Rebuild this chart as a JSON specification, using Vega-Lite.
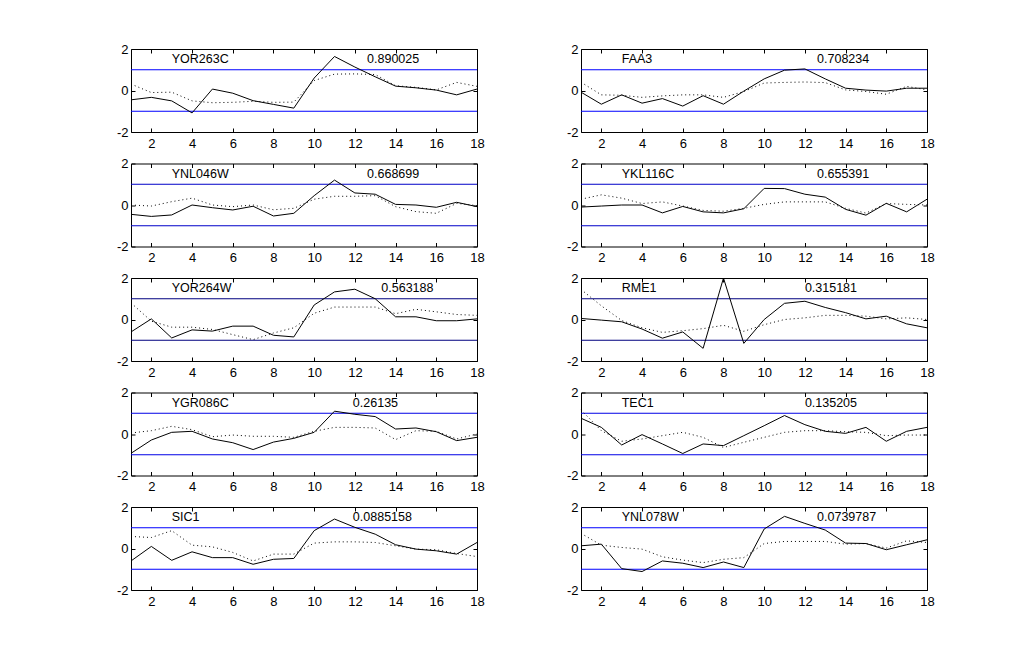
{
  "$schema": "https://vega.github.io/schema/vega-lite/v6.json",
  "autosize": {"type": "pad"},
  "padding": {"left": 115, "top": 41, "right": 0, "bottom": 0},
  "background": "white",
  "bounds": "flush",
  "spacing": {"row": 31.5, "column": 104},
  "columns": 2,
  "data": {"values": [
    {"g":"YOR263C","t":1,"p":-0.45,"m":0.31},{"g":"YOR263C","t":2,"p":-0.33,"m":-0.1},{"g":"YOR263C","t":3,"p":-0.5,"m":-0.08},{"g":"YOR263C","t":4,"p":-1.08,"m":-0.5},{"g":"YOR263C","t":5,"p":0.07,"m":-0.59},{"g":"YOR263C","t":6,"p":-0.13,"m":-0.57},{"g":"YOR263C","t":7,"p":-0.49,"m":-0.52},{"g":"YOR263C","t":8,"p":-0.67,"m":-0.57},{"g":"YOR263C","t":9,"p":-0.85,"m":-0.56},{"g":"YOR263C","t":10,"p":0.6,"m":0.48},{"g":"YOR263C","t":11,"p":1.64,"m":0.79},{"g":"YOR263C","t":12,"p":1.13,"m":0.8},{"g":"YOR263C","t":13,"p":0.66,"m":0.77},{"g":"YOR263C","t":14,"p":0.21,"m":0.23},{"g":"YOR263C","t":15,"p":0.13,"m":0.15},{"g":"YOR263C","t":16,"p":0.02,"m":0.03},{"g":"YOR263C","t":17,"p":-0.21,"m":0.39},{"g":"YOR263C","t":18,"p":0.07,"m":0.2},
    {"g":"FAA3","t":1,"p":-0.08,"m":0.4},{"g":"FAA3","t":2,"p":-0.66,"m":-0.21},{"g":"FAA3","t":3,"p":-0.21,"m":-0.23},{"g":"FAA3","t":4,"p":-0.61,"m":-0.33},{"g":"FAA3","t":5,"p":-0.39,"m":-0.26},{"g":"FAA3","t":6,"p":-0.75,"m":-0.21},{"g":"FAA3","t":7,"p":-0.25,"m":-0.21},{"g":"FAA3","t":8,"p":-0.66,"m":-0.33},{"g":"FAA3","t":9,"p":-0.03,"m":-0.05},{"g":"FAA3","t":10,"p":0.56,"m":0.36},{"g":"FAA3","t":11,"p":0.98,"m":0.39},{"g":"FAA3","t":12,"p":1.04,"m":0.41},{"g":"FAA3","t":13,"p":0.56,"m":0.38},{"g":"FAA3","t":14,"p":0.11,"m":0.03},{"g":"FAA3","t":15,"p":0.02,"m":-0.05},{"g":"FAA3","t":16,"p":-0.03,"m":-0.18},{"g":"FAA3","t":17,"p":0.11,"m":0.2},{"g":"FAA3","t":18,"p":0.11,"m":0.03},
    {"g":"YNL046W","t":1,"p":-0.45,"m":0.0},{"g":"YNL046W","t":2,"p":-0.55,"m":-0.05},{"g":"YNL046W","t":3,"p":-0.48,"m":0.16},{"g":"YNL046W","t":4,"p":0.0,"m":0.33},{"g":"YNL046W","t":5,"p":-0.13,"m":0.0},{"g":"YNL046W","t":6,"p":-0.24,"m":-0.08},{"g":"YNL046W","t":7,"p":-0.06,"m":0.0},{"g":"YNL046W","t":8,"p":-0.53,"m":-0.23},{"g":"YNL046W","t":9,"p":-0.4,"m":-0.16},{"g":"YNL046W","t":10,"p":0.45,"m":0.28},{"g":"YNL046W","t":11,"p":1.2,"m":0.42},{"g":"YNL046W","t":12,"p":0.58,"m":0.42},{"g":"YNL046W","t":13,"p":0.52,"m":0.45},{"g":"YNL046W","t":14,"p":0.03,"m":-0.08},{"g":"YNL046W","t":15,"p":0.0,"m":-0.32},{"g":"YNL046W","t":16,"p":-0.11,"m":-0.4},{"g":"YNL046W","t":17,"p":0.13,"m":0.08},{"g":"YNL046W","t":18,"p":-0.08,"m":-0.03},
    {"g":"YKL116C","t":1,"p":-0.1,"m":0.28},{"g":"YKL116C","t":2,"p":-0.05,"m":0.49},{"g":"YKL116C","t":3,"p":0.0,"m":0.33},{"g":"YKL116C","t":4,"p":0.0,"m":0.07},{"g":"YKL116C","t":5,"p":-0.38,"m":0.15},{"g":"YKL116C","t":6,"p":-0.07,"m":-0.05},{"g":"YKL116C","t":7,"p":-0.33,"m":-0.26},{"g":"YKL116C","t":8,"p":-0.38,"m":-0.3},{"g":"YKL116C","t":9,"p":-0.18,"m":-0.16},{"g":"YKL116C","t":10,"p":0.8,"m":0.03},{"g":"YKL116C","t":11,"p":0.79,"m":0.15},{"g":"YKL116C","t":12,"p":0.52,"m":0.15},{"g":"YKL116C","t":13,"p":0.38,"m":0.15},{"g":"YKL116C","t":14,"p":-0.21,"m":-0.16},{"g":"YKL116C","t":15,"p":-0.49,"m":-0.39},{"g":"YKL116C","t":16,"p":0.08,"m":0.07},{"g":"YKL116C","t":17,"p":-0.33,"m":0.03},{"g":"YKL116C","t":18,"p":0.28,"m":0.0},
    {"g":"YOR264W","t":1,"p":-0.6,"m":0.8},{"g":"YOR264W","t":2,"p":0.03,"m":-0.08},{"g":"YOR264W","t":3,"p":-0.89,"m":-0.37},{"g":"YOR264W","t":4,"p":-0.5,"m":-0.37},{"g":"YOR264W","t":5,"p":-0.56,"m":-0.48},{"g":"YOR264W","t":6,"p":-0.32,"m":-0.73},{"g":"YOR264W","t":7,"p":-0.32,"m":-0.97},{"g":"YOR264W","t":8,"p":-0.76,"m":-0.65},{"g":"YOR264W","t":9,"p":-0.84,"m":-0.4},{"g":"YOR264W","t":10,"p":0.7,"m":0.3},{"g":"YOR264W","t":11,"p":1.33,"m":0.6},{"g":"YOR264W","t":12,"p":1.46,"m":0.6},{"g":"YOR264W","t":13,"p":1.0,"m":0.6},{"g":"YOR264W","t":14,"p":0.13,"m":0.28},{"g":"YOR264W","t":15,"p":0.13,"m":0.49},{"g":"YOR264W","t":16,"p":-0.06,"m":0.37},{"g":"YOR264W","t":17,"p":-0.06,"m":0.24},{"g":"YOR264W","t":18,"p":0.03,"m":0.2},
    {"g":"RME1","t":1,"p":0.05,"m":1.45},{"g":"RME1","t":2,"p":-0.03,"m":0.66},{"g":"RME1","t":3,"p":-0.11,"m":-0.05},{"g":"RME1","t":4,"p":-0.46,"m":-0.4},{"g":"RME1","t":5,"p":-0.9,"m":-0.62},{"g":"RME1","t":6,"p":-0.6,"m":-0.54},{"g":"RME1","t":7,"p":-1.39,"m":-0.44},{"g":"RME1","t":8,"p":2.0,"m":-0.28},{"g":"RME1","t":9,"p":-1.15,"m":-0.57},{"g":"RME1","t":10,"p":0.0,"m":-0.25},{"g":"RME1","t":11,"p":0.78,"m":0.0},{"g":"RME1","t":12,"p":0.88,"m":0.08},{"g":"RME1","t":13,"p":0.58,"m":0.2},{"g":"RME1","t":14,"p":0.33,"m":0.2},{"g":"RME1","t":15,"p":0.03,"m":0.16},{"g":"RME1","t":16,"p":0.16,"m":0.03},{"g":"RME1","t":17,"p":-0.21,"m":0.08},{"g":"RME1","t":18,"p":-0.4,"m":0.0},
    {"g":"YGR086C","t":1,"p":-0.93,"m":0.05},{"g":"YGR086C","t":2,"p":-0.29,"m":0.16},{"g":"YGR086C","t":3,"p":0.08,"m":0.37},{"g":"YGR086C","t":4,"p":0.13,"m":0.21},{"g":"YGR086C","t":5,"p":-0.24,"m":-0.13},{"g":"YGR086C","t":6,"p":-0.42,"m":-0.05},{"g":"YGR086C","t":7,"p":-0.75,"m":-0.11},{"g":"YGR086C","t":8,"p":-0.39,"m":-0.11},{"g":"YGR086C","t":9,"p":-0.21,"m":-0.16},{"g":"YGR086C","t":10,"p":0.08,"m":0.13},{"g":"YGR086C","t":11,"p":1.1,"m":0.32},{"g":"YGR086C","t":12,"p":0.95,"m":0.32},{"g":"YGR086C","t":13,"p":0.84,"m":0.29},{"g":"YGR086C","t":14,"p":0.24,"m":-0.27},{"g":"YGR086C","t":15,"p":0.29,"m":0.16},{"g":"YGR086C","t":16,"p":0.11,"m":0.13},{"g":"YGR086C","t":17,"p":-0.32,"m":-0.24},{"g":"YGR086C","t":18,"p":-0.16,"m":0.0},
    {"g":"TEC1","t":1,"p":0.76,"m":1.16},{"g":"TEC1","t":2,"p":0.32,"m":0.16},{"g":"TEC1","t":3,"p":-0.53,"m":-0.35},{"g":"TEC1","t":4,"p":-0.03,"m":-0.24},{"g":"TEC1","t":5,"p":-0.48,"m":-0.08},{"g":"TEC1","t":6,"p":-0.94,"m":0.08},{"g":"TEC1","t":7,"p":-0.48,"m":-0.16},{"g":"TEC1","t":8,"p":-0.56,"m":-0.65},{"g":"TEC1","t":9,"p":-0.08,"m":-0.4},{"g":"TEC1","t":10,"p":0.4,"m":-0.16},{"g":"TEC1","t":11,"p":0.89,"m":0.08},{"g":"TEC1","t":12,"p":0.45,"m":0.16},{"g":"TEC1","t":13,"p":0.13,"m":0.16},{"g":"TEC1","t":14,"p":0.03,"m":0.11},{"g":"TEC1","t":15,"p":0.32,"m":0.08},{"g":"TEC1","t":16,"p":-0.35,"m":-0.08},{"g":"TEC1","t":17,"p":0.13,"m":-0.05},{"g":"TEC1","t":18,"p":0.32,"m":-0.05},
    {"g":"SIC1","t":1,"p":-0.6,"m":0.58},{"g":"SIC1","t":2,"p":0.1,"m":0.53},{"g":"SIC1","t":3,"p":-0.57,"m":0.86},{"g":"SIC1","t":4,"p":-0.16,"m":0.16},{"g":"SIC1","t":5,"p":-0.44,"m":0.08},{"g":"SIC1","t":6,"p":-0.44,"m":-0.19},{"g":"SIC1","t":7,"p":-0.76,"m":-0.6},{"g":"SIC1","t":8,"p":-0.52,"m":-0.27},{"g":"SIC1","t":9,"p":-0.48,"m":-0.27},{"g":"SIC1","t":10,"p":0.86,"m":0.26},{"g":"SIC1","t":11,"p":1.42,"m":0.32},{"g":"SIC1","t":12,"p":1.02,"m":0.32},{"g":"SIC1","t":13,"p":0.69,"m":0.29},{"g":"SIC1","t":14,"p":0.18,"m":0.13},{"g":"SIC1","t":15,"p":-0.03,"m":-0.03},{"g":"SIC1","t":16,"p":-0.11,"m":-0.06},{"g":"SIC1","t":17,"p":-0.27,"m":-0.24},{"g":"SIC1","t":18,"p":0.29,"m":-0.39},
    {"g":"YNL078W","t":1,"p":0.13,"m":0.73},{"g":"YNL078W","t":2,"p":0.21,"m":0.16},{"g":"YNL078W","t":3,"p":-0.97,"m":0.05},{"g":"YNL078W","t":4,"p":-1.11,"m":-0.03},{"g":"YNL078W","t":5,"p":-0.6,"m":-0.4},{"g":"YNL078W","t":6,"p":-0.71,"m":-0.56},{"g":"YNL078W","t":7,"p":-0.92,"m":-0.68},{"g":"YNL078W","t":8,"p":-0.65,"m":-0.52},{"g":"YNL078W","t":9,"p":-0.92,"m":-0.44},{"g":"YNL078W","t":10,"p":0.94,"m":0.24},{"g":"YNL078W","t":11,"p":1.55,"m":0.34},{"g":"YNL078W","t":12,"p":1.21,"m":0.34},{"g":"YNL078W","t":13,"p":0.89,"m":0.34},{"g":"YNL078W","t":14,"p":0.26,"m":0.21},{"g":"YNL078W","t":15,"p":0.24,"m":0.24},{"g":"YNL078W","t":16,"p":-0.06,"m":0.02},{"g":"YNL078W","t":17,"p":0.18,"m":0.37},{"g":"YNL078W","t":18,"p":0.42,"m":0.29},
    {"g":"YOR263C","score":"0.890025","sx":12.6},
    {"g":"FAA3","score":"0.708234","sx":12.6},
    {"g":"YNL046W","score":"0.668699","sx":12.6},
    {"g":"YKL116C","score":"0.655391","sx":12.6},
    {"g":"YOR264W","score":"0.563188","sx":13.3},
    {"g":"RME1","score":"0.315181","sx":12.0},
    {"g":"YGR086C","score":"0.26135","sx":11.9},
    {"g":"TEC1","score":"0.135205","sx":12.0},
    {"g":"SIC1","score":"0.0885158","sx":11.9},
    {"g":"YNL078W","score":"0.0739787","sx":12.6}
  ]},
  "facet": {"field": "g", "type": "nominal",
    "header": {"labels": false, "title": null, "labelExpr": "''", "labelPadding": 0, "titlePadding": 0, "labelFontSize": 1},
    "title": null,
    "sort": ["YOR263C","FAA3","YNL046W","YKL116C","YOR264W","RME1","YGR086C","TEC1","SIC1","YNL078W"]},
  "spec": {
    "width": 346,
    "height": 83,
    "resolve": {"axis": {"x": "independent", "y": "independent"}},
    "layer": [
      {"transform": [{"filter": "isValid(datum.score)"}],
       "mark": {"type": "rule", "strokeWidth": 1},
       "encoding": {"y": {"datum": 1, "type": "quantitative", "scale": {"domain": [-2, 2], "nice": false, "zero": false}, "axis": null},
         "color": {"field": "g", "type": "nominal", "legend": null,
           "scale": {"domain": ["YOR263C","FAA3","YNL046W","YKL116C","YOR264W","RME1","YGR086C","TEC1","SIC1","YNL078W"],
                     "range": ["#0000ff","#0000ff","#0000c8","#0000c8","#00007f","#00007f","#0000e6","#0000e6","#0000ff","#0000ff"]}}}},
      {"transform": [{"filter": "isValid(datum.score)"}],
       "mark": {"type": "rule", "strokeWidth": 1},
       "encoding": {"y": {"datum": -1, "type": "quantitative", "axis": null},
         "color": {"field": "g", "type": "nominal", "legend": null}}},
      {"transform": [{"filter": "isValid(datum.t)"}],
       "mark": {"type": "line", "color": "black", "strokeWidth": 1, "strokeDash": [1, 3]},
       "encoding": {
         "x": {"field": "t", "type": "quantitative", "scale": {"domain": [1, 18], "nice": false, "zero": false},
               "axis": {"orient": "top", "labels": false, "values": [2,4,6,8,10,12,14,16,18], "title": null}},
         "y": {"field": "m", "type": "quantitative",
               "axis": {"orient": "right", "labels": false, "values": [-2,0,2], "title": null}}}},
      {"transform": [{"filter": "isValid(datum.t)"}],
       "mark": {"type": "line", "color": "black", "strokeWidth": 1},
       "encoding": {
         "x": {"field": "t", "type": "quantitative", "axis": {"orient": "bottom", "values": [2,4,6,8,10,12,14,16,18], "title": null}},
         "y": {"field": "p", "type": "quantitative", "axis": {"orient": "left", "values": [-2,0,2], "title": null}}}},
      {"transform": [{"filter": "isValid(datum.score)"}],
       "mark": {"type": "text", "align": "left", "baseline": "middle", "font": "Liberation Sans", "fontSize": 12.5, "color": "black"},
       "encoding": {"x": {"datum": 3, "type": "quantitative", "axis": null}, "y": {"datum": 1.5, "type": "quantitative", "axis": null}, "text": {"field": "g"}}},
      {"transform": [{"filter": "isValid(datum.score)"}],
       "mark": {"type": "text", "align": "left", "baseline": "middle", "font": "Liberation Sans", "fontSize": 12.5, "color": "black"},
       "encoding": {"x": {"field": "sx", "type": "quantitative", "axis": null}, "y": {"datum": 1.5, "type": "quantitative", "axis": null}, "text": {"field": "score"}}}
    ]
  },
  "resolve": {"axis": {"x": "independent", "y": "independent"}},
  "config": {
    "view": {"stroke": "black", "strokeWidth": 1, "fill": "white"},
    "header": {"labels": false, "title": null},
    "axis": {"domain": false, "grid": false, "ticks": true, "tickSize": -4, "tickColor": "black",
             "labelPadding": 9, "labelColor": "black", "labelFont": "Liberation Sans", "labelFontSize": 13,
             "labelFlush": false, "labelOverlap": false, "labelExpr": "'' + datum.value"},
    "axisY": {"labelPadding": 7}
  }
}
